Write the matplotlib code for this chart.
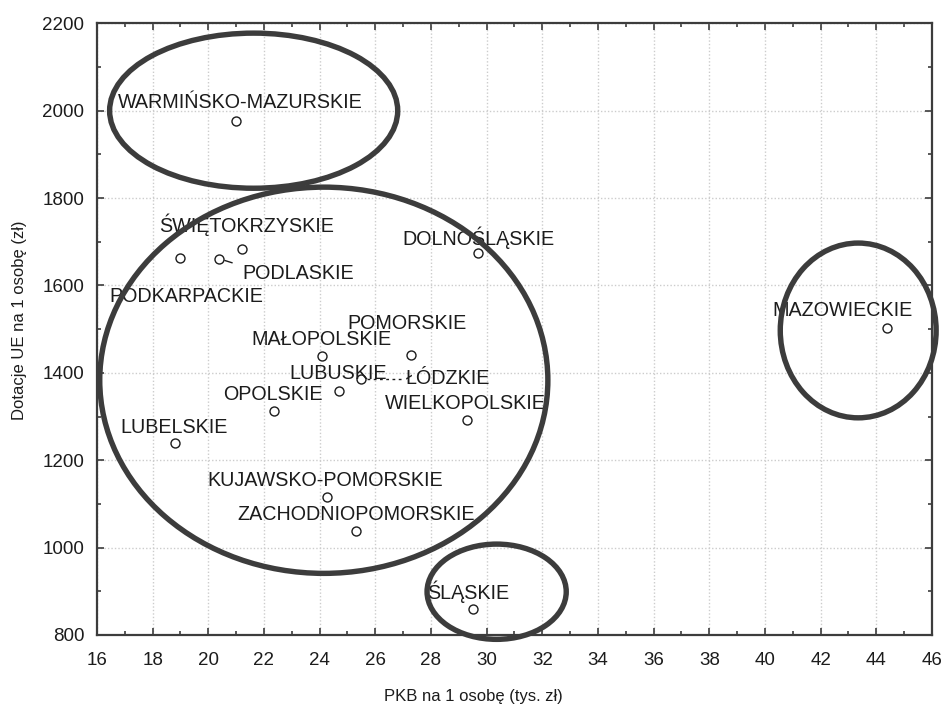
import numpy as np
import matplotlib
matplotlib.use("Agg")
import matplotlib.pyplot as plt
from matplotlib.patches import Ellipse
from matplotlib.ticker import MultipleLocator

plt.rcParams['font.family'] = ['Liberation Sans', 'DejaVu Sans']

# ---------------- DATA ----------------
regions = ["WARMIŃSKO-MAZURSKIE", "PODKARPACKIE", "PODLASKIE", "ŚWIĘTOKRZYSKIE",
           "DOLNOŚLĄSKIE", "MAŁOPOLSKIE", "POMORSKIE", "ŁÓDZKIE", "LUBUSKIE",
           "OPOLSKIE", "WIELKOPOLSKIE", "LUBELSKIE", "KUJAWSKO-POMORSKIE",
           "ZACHODNIOPOMORSKIE", "ŚLĄSKIE", "MAZOWIECKIE"]
pkb = [21.0, 19.0, 20.4, 21.2, 29.7, 24.1, 27.3, 25.5, 24.7,
       22.35, 29.3, 18.8, 24.25, 25.3, 29.5, 44.4]
dotacje = [1976, 1662, 1660, 1683, 1674, 1438, 1440, 1385, 1358,
           1312, 1292, 1239, 1115, 1038, 859, 1502]

# ---------------- LAYOUT ----------------
# label anchor (left, vertical centre) in data units
label_pos = {
    "WARMIŃSKO-MAZURSKIE": (16.75, 2019),
    "ŚWIĘTOKRZYSKIE": (18.25, 1740),
    "DOLNOŚLĄSKIE": (26.98, 1710),
    "PODLASKIE": (21.24, 1628),
    "PODKARPACKIE": (16.43, 1575),
    "POMORSKIE": (25.0, 1513),
    "MAŁOPOLSKIE": (21.56, 1477),
    "LUBUSKIE": (22.93, 1399),
    "ŁÓDZKIE": (27.09, 1388),
    "OPOLSKIE": (20.52, 1351),
    "WIELKOPOLSKIE": (26.34, 1330),
    "LUBELSKIE": (16.83, 1276),
    "KUJAWSKO-POMORSKIE": (19.98, 1154),
    "ZACHODNIOPOMORSKIE": (21.06, 1076),
    "ŚLĄSKIE": (27.88, 898),
    "MAZOWIECKIE": (40.26, 1543),
}
# cluster ellipses: centre x, centre y, width, height
clusters = [(21.63, 2000, 10.35, 355),
            (24.15, 1383, 16.1, 884),
            (43.35, 1497, 5.6, 400),
            (30.36, 899, 5.0, 218)]

dark = "#3c3c3c"
ink = "#1c1c1c"

fig = plt.figure(figsize=(9.45, 7.06), dpi=100)
ax = fig.add_axes([0.1026, 0.1006, 0.8836, 0.8664])

ax.set_xlim(16, 46)
ax.set_ylim(800, 2200)
ax.xaxis.set_major_locator(MultipleLocator(2))
ax.xaxis.set_minor_locator(MultipleLocator(1))
ax.yaxis.set_major_locator(MultipleLocator(200))
ax.yaxis.set_minor_locator(MultipleLocator(100))
ax.tick_params(which="both", direction="in", top=True, right=True,
               color=dark, width=1.2)
ax.tick_params(which="major", length=5, labelsize=13.5, labelcolor=ink)
ax.tick_params(which="minor", length=3)
ax.tick_params(axis="x", which="major", pad=12)
ax.tick_params(axis="y", which="major", pad=9)
for s in ax.spines.values():
    s.set_color(dark)
    s.set_linewidth(1.6)
ax.grid(True, which="major", linestyle=(0, (1, 1.5)), color="#cccccc", linewidth=1)
ax.set_axisbelow(True)

ax.scatter(pkb, dotacje, s=42, facecolors="white", edgecolors=ink,
           linewidths=1.0, zorder=3)

for name in regions:
    lx, ly = label_pos[name]
    ax.text(lx, ly, name, fontsize=14.2, color=ink, ha="left", va="center", zorder=4)

# leader lines
i = regions.index("PODLASKIE")
ax.plot([pkb[i] + 0.2, pkb[i] + 0.45], [dotacje[i] - 3, dotacje[i] - 8],
        color=ink, lw=1, zorder=3)
i = regions.index("ŁÓDZKIE")
ax.plot([pkb[i] + 0.2, label_pos["ŁÓDZKIE"][0] - 0.05],
        [dotacje[i], label_pos["ŁÓDZKIE"][1] - 3],
        color=ink, lw=1, linestyle=(0, (2, 2.5)), zorder=3)

for cx, cy, w, h in clusters:
    ax.add_patch(Ellipse((cx, cy), w, h, fill=False, edgecolor=dark,
                         linewidth=3.9, clip_on=False, zorder=5))

fig.text(473 / 945, 1 - 696 / 706, "PKB na 1 osobę (tys. zł)", fontsize=12,
         color=ink, ha="center", va="center")
fig.text(20 / 945, 1 - 320 / 706, "Dotacje UE na 1 osobę (zł)", fontsize=12,
         color=ink, ha="center", va="center", rotation=90)

fig.savefig("out.png", dpi=100, facecolor="white")
